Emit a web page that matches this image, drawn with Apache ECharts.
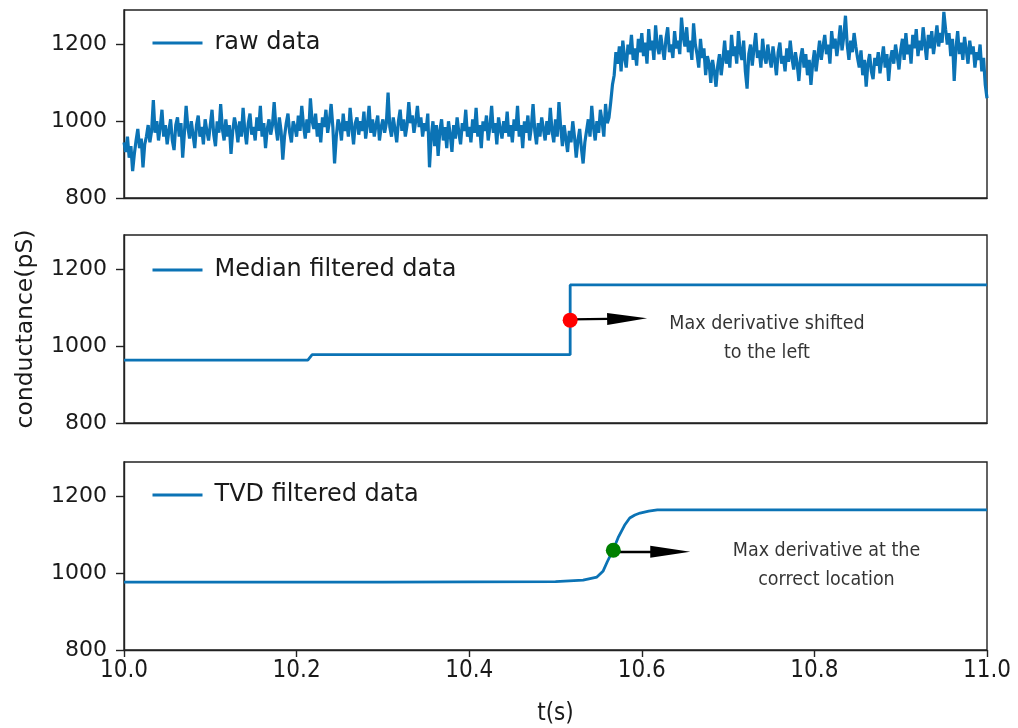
<!DOCTYPE html>
<html><head><meta charset="utf-8">
<script src="https://cdn.jsdelivr.net/npm/echarts@6/dist/echarts.min.js"></script>
<style>html,body{margin:0;padding:0;background:#fff}#c{width:1018px;height:728px}</style>
</head><body><div id="c"></div>
<script>
// ---- data ----
const xTicks = [10.0, 10.2, 10.4, 10.6, 10.8, 11.0];
const yTicks = [800, 1000, 1200];
const rawStart = 10.0, rawStep = 0.002;
const rawValues = [
  // 10.00
  945, 920, 960, 905, 935,  870, 915, 950, 980, 930,  955, 880, 940, 960, 990,  945, 975, 1055, 970, 1000,  950, 985, 1030, 960, 990,
  // 10.05
  940, 975, 1005, 950, 925,  990, 1010, 960, 995, 905,  970, 1040, 985, 955, 1000,  965, 930, 990, 1015, 960,  985, 940, 1005, 975, 950,
  // 10.10
  990, 1030, 965, 935, 1000,  970, 1045, 980, 950, 1005,  960, 990, 915, 975, 1010,  985, 945, 1000, 960, 1035,  975, 940, 995, 1020, 965,
  // 10.15
  985, 950, 1010, 975, 1040,  960, 995, 930, 980, 1005,  965, 990, 1050, 985, 950,  1010, 975, 900, 960, 995,  1020, 970, 945, 1000, 985,
  // 10.20
  960, 1015, 975, 1040, 990,  955, 1005, 970, 1060, 1000,  980, 1020, 960, 995, 945,  1010, 985, 1030, 970, 1000,  1045, 985, 890, 960, 1005,
  // 10.25
  990, 950, 1020, 975, 1000,  960, 1035, 985, 940, 995,  1010, 965, 1000, 975, 1025,  955, 990, 1040, 970, 1005,  960, 990, 1015, 950, 985,
  // 10.30
  1005, 970, 995, 1075, 985,  960, 1010, 980, 945, 1000,  1030, 975, 1005, 960, 990,  1050, 995, 1015, 970, 1000,  1040, 985, 1010, 960, 995,
  // 10.35
  975, 1020, 880, 960, 1000,  935, 990, 910, 975, 1005,  950, 985, 930, 1000, 965,  920, 990, 955, 1010, 970,  940, 995, 975, 1030, 960,
  // 10.40
  985, 945, 1005, 970, 1035,  960, 990, 930, 1000, 975,  1015, 950, 985, 1040, 970,  995, 940, 1010, 980, 955,  1000, 970, 1025, 960, 990,
  // 10.45
  945, 1005, 975, 1040, 960,  990, 930, 1000, 970, 1015,  950, 985, 1045, 975, 940,  995, 960, 1010, 980, 950,  1000, 965, 1035, 975, 945,
  // 10.50
  1005, 960, 1050, 985, 935,  990, 955, 920, 975, 945,  1000, 960, 905, 950, 980,  930, 890, 945, 975, 1005,  960, 1040, 985, 950, 1000,
  // 10.55
  970, 1030, 1000, 960, 1045,  995, 1010, 1050, 1095, 1120,  1180, 1150, 1195, 1130, 1210,  1165, 1140, 1200, 1175, 1225,  1160, 1190, 1145, 1215, 1180,
  // 10.60
  1230, 1170, 1205, 1150, 1240,  1185, 1210, 1160, 1250, 1195,  1175, 1225, 1190, 1160, 1215,  1245, 1180, 1200, 1165, 1235,  1190, 1210, 1175, 1270, 1220,
  // 10.65
  1195, 1245, 1180, 1210, 1160,  1255, 1200, 1175, 1140, 1215,  1165, 1190, 1120, 1170, 1150,  1100, 1160, 1130, 1090, 1145,  1175, 1120, 1160, 1210, 1150,
  // 10.70
  1185, 1140, 1225, 1170, 1195,  1150, 1235, 1180, 1160, 1210,  1130, 1085, 1175, 1200, 1145,  1190, 1230, 1165, 1185, 1140,  1215, 1170, 1150, 1200, 1165,
  // 10.75
  1140, 1195, 1160, 1120, 1180,  1205, 1150, 1170, 1130, 1190,  1155, 1210, 1165, 1135, 1180,  1150, 1105, 1165, 1190, 1140,  1175, 1120, 1160, 1095, 1150,
  // 10.80
  1185, 1130, 1170, 1210, 1160,  1195, 1225, 1175, 1200, 1150,  1235, 1190, 1215, 1170, 1205,  1250, 1185, 1220, 1275, 1200,  1160, 1210, 1180, 1230, 1195,
  // 10.85
  1165, 1140, 1185, 1120, 1160,  1090, 1150, 1175, 1130, 1110,  1165, 1145, 1180, 1125, 1160,  1195, 1140, 1175, 1105, 1160,  1185, 1150, 1200, 1170, 1135,
  // 10.90
  1185, 1215, 1160, 1230, 1175,  1200, 1150, 1225, 1190, 1240,  1170, 1210, 1185, 1245, 1200,  1160, 1225, 1190, 1235, 1175,  1210, 1250, 1195, 1230, 1205,
  // 10.95
  1285, 1240, 1200, 1230, 1170,  1215, 1105, 1190, 1235, 1175,  1205, 1160, 1220, 1185, 1150,  1210, 1175, 1195, 1140, 1180,  1160, 1200, 1130, 1165, 1095,
  // 11.00
  1060
];
const medianT = [10.0, 10.213, 10.218, 10.517, 10.517, 11.0];
const medianV = [964, 964, 978, 978, 1160, 1160];
const tvdT = [10.0, 10.3, 10.5, 10.532, 10.548, 10.555, 10.56, 10.567, 10.573, 10.58, 10.586, 10.592, 10.598, 10.608, 10.618, 10.65, 10.8, 11.0];
const tvdV = [977, 977, 978, 982, 990, 1005, 1030, 1062, 1095, 1125, 1144, 1152, 1157, 1162, 1165, 1165, 1165, 1165];
const redDot = [10.517, 1068];
const redArrowStart = [10.517, 1070];
const redArrowEnd = [10.583, 1072];
const greenDot = [10.567, 1060];
const greenArrowStart = [10.567, 1056];
const greenArrowEnd = [10.633, 1056];
const medianNote = { t: 10.745, v: 1020, text: 'Max derivative shifted\nto the left' };
const tvdNote = { t: 10.814, v: 1021, text: 'Max derivative at the\ncorrect location' };
const seriesNames = ['raw data', 'Median filtered data', 'TVD filtered data'];

// ---- build ----
const rawData = rawValues.map((v, i) => [+(rawStart + i * rawStep).toFixed(4), v]);
const medData = medianT.map((t, i) => [t, medianV[i]]);
const tvdData = tvdT.map((t, i) => [t, tvdV[i]]);

const lineColor = '#0b73b5';
const ink = '#1a1a1a';
const tops = [10, 235, 462];
const H = 188;
const grids = tops.map(t => ({
  left: 124, right: 31, top: t, height: H, show: true,
  borderColor: '#222', borderWidth: 1.4, backgroundColor: 'transparent'
}));
const xAxes = [0, 1, 2].map(i => ({
  type: 'value', gridIndex: i, min: 10.0, max: 11.0, interval: 0.2,
  axisLine: { show: true, lineStyle: { color: '#222', width: 1.4 } },
  splitLine: { show: false },
  axisTick: { show: i === 2, length: 7, lineStyle: { color: '#222', width: 1.4 } },
  axisLabel: {
    show: i === 2, color: ink, fontSize: 24, margin: 9,
    fontFamily: 'DejaVu Sans Condensed, DejaVu Sans',
    formatter: v => v.toFixed(1)
  },
  name: i === 2 ? 't(s)' : '',
  nameLocation: 'middle', nameGap: 52,
  nameTextStyle: { fontSize: 24, color: ink, fontFamily: 'DejaVu Sans Condensed, DejaVu Sans' }
}));
const yAxes = [0, 1, 2].map(i => ({
  type: 'value', gridIndex: i, min: 800, max: 1290,
  axisLine: { show: true, lineStyle: { color: '#222', width: 1.4 } },
  splitLine: { show: false },
  axisTick: { show: true, length: 8, customValues: yTicks, lineStyle: { color: '#222', width: 1.4 } },
  axisLabel: {
    color: ink, fontSize: 22, margin: 17, fontFamily: 'DejaVu Sans', customValues: yTicks,
    formatter: v => String(v)
  },
  name: i === 1 ? 'conductance(pS)' : '',
  nameLocation: 'middle', nameGap: 86, nameRotate: 90,
  nameTextStyle: { fontSize: 23.5, color: ink, fontFamily: 'DejaVu Sans' }
}));

const legendTops = [26, 253, 478];
const legends = seriesNames.map((n, i) => ({
  data: [n], left: 146, top: legendTops[i], itemWidth: 50, itemHeight: 14,
  textStyle: { fontSize: 24, color: ink, fontFamily: 'DejaVu Sans', padding: [0, 0, 0, 7] },
  itemStyle: { opacity: 0 },
  lineStyle: { width: 3 }
}));

const noteLabel = {
  show: true, position: 'inside', color: '#000', fontSize: 19.5, lineHeight: 29,
  fontFamily: 'DejaVu Sans Condensed, Liberation Sans', align: 'center'
};
const arrowLine = (from, to) => ({
  silent: true, symbol: ['none', 'triangle'], symbolSize: [12, 40],
  lineStyle: { color: '#000', width: 2.4, type: 'solid' }, label: { show: false },
  data: [[{ coord: from }, { coord: to }]]
});
const lineSeries = (i, data) => ({
  name: seriesNames[i], type: 'line', xAxisIndex: i, yAxisIndex: i, data,
  showSymbol: false, symbol: 'none',
  lineStyle: { color: lineColor, width: i === 0 ? 3.2 : 2.8 }, itemStyle: { color: lineColor }
});

const option = {
  animation: false,
  backgroundColor: '#fff',
  grid: grids, xAxis: xAxes, yAxis: yAxes, legend: legends,
  series: [
    lineSeries(0, rawData),
    lineSeries(1, medData),
    lineSeries(2, tvdData),
    { name: 'redArrow', type: 'scatter', xAxisIndex: 1, yAxisIndex: 1, data: [], markLine: arrowLine(redArrowStart, redArrowEnd) },
    { name: 'greenArrow', type: 'scatter', xAxisIndex: 2, yAxisIndex: 2, data: [], markLine: arrowLine(greenArrowStart, greenArrowEnd) },
    { name: 'redDot', type: 'scatter', xAxisIndex: 1, yAxisIndex: 1, data: [redDot], symbolSize: 15, itemStyle: { color: '#ff0000', opacity: 1 }, z: 5 },
    { name: 'greenDot', type: 'scatter', xAxisIndex: 2, yAxisIndex: 2, data: [greenDot], symbolSize: 15, itemStyle: { color: '#008000', opacity: 1 }, z: 5 },
    { name: 'medNote', type: 'scatter', xAxisIndex: 1, yAxisIndex: 1, data: [[medianNote.t, medianNote.v]], symbolSize: 2,
      itemStyle: { color: 'rgba(0,0,0,0)' }, labelLayout: { hideOverlap: false },
      label: Object.assign({}, noteLabel, { formatter: medianNote.text }) },
    { name: 'tvdNote', type: 'scatter', xAxisIndex: 2, yAxisIndex: 2, data: [[tvdNote.t, tvdNote.v]], symbolSize: 2,
      itemStyle: { color: 'rgba(0,0,0,0)' }, labelLayout: { hideOverlap: false },
      label: Object.assign({}, noteLabel, { formatter: tvdNote.text }) }
  ]
};
const chart = echarts.init(document.getElementById('c'), null, { renderer: 'canvas' });
chart.setOption(option);
</script></body></html>
